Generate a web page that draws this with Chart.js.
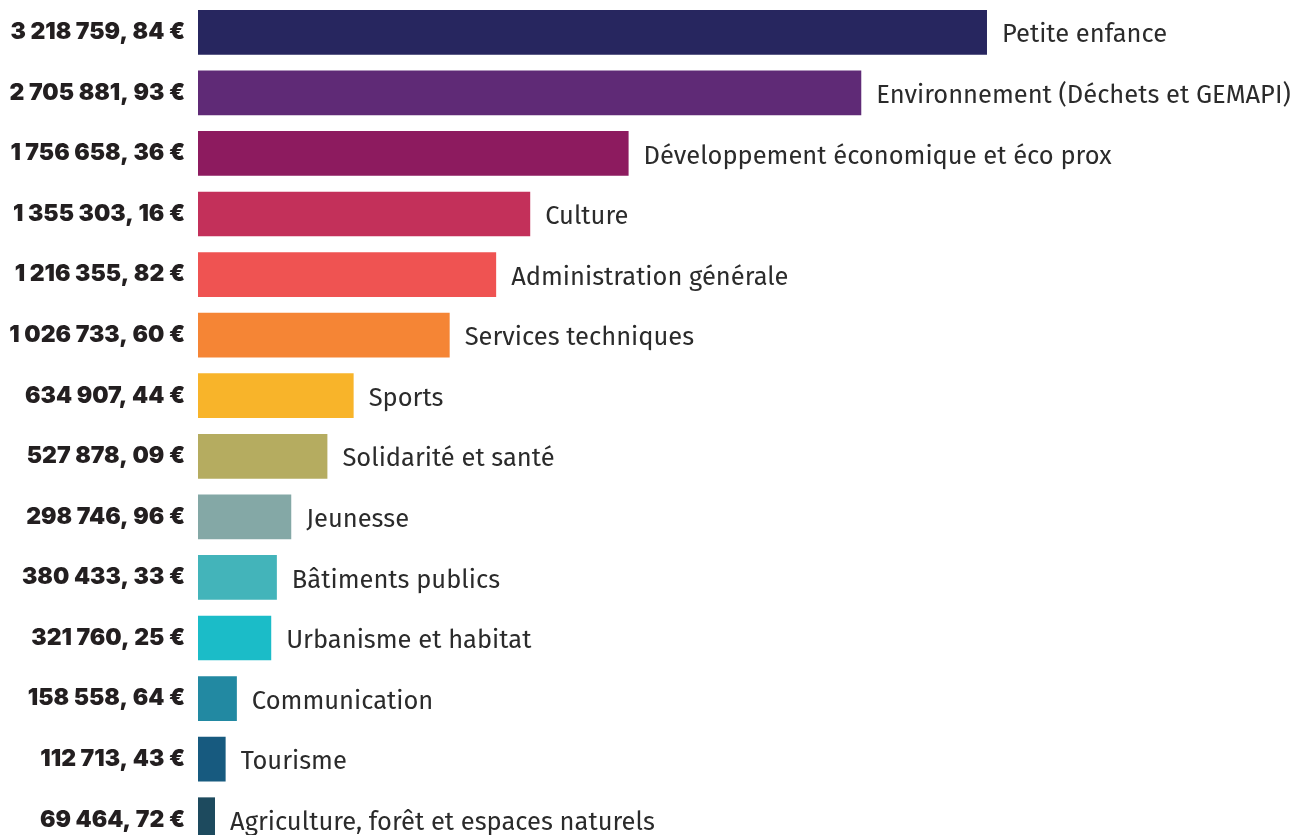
<!DOCTYPE html>
<html>
<head>
<meta charset="utf-8">
<script src="https://cdn.jsdelivr.net/npm/chart.js@4"></script>
<style>
  html, body { margin: 0; padding: 0; background: #fff; overflow: hidden; }
  #wrap { width: 1291px; height: 850px; }
</style>
</head>
<body>
<div id="wrap"><canvas id="budgetChart" width="1291" height="850"></canvas></div>
<script>
// categories (right-hand labels)
var categories = [
  "Petite enfance",
  "Environnement (Déchets et GEMAPI)",
  "Développement économique et éco prox",
  "Culture",
  "Administration générale",
  "Services techniques",
  "Sports",
  "Solidarité et santé",
  "Jeunesse",
  "Bâtiments publics",
  "Urbanisme et habitat",
  "Communication",
  "Tourisme",
  "Agriculture, forêt et espaces naturels"
];

// amounts printed on the left
var valueLabels = [
  "3 218 759, 84 €",
  "2 705 881, 93 €",
  "1 756 658, 36 €",
  "1 355 303, 16 €",
  "1 216 355, 82 €",
  "1 026 733, 60 €",
  "634 907, 44 €",
  "527 878, 09 €",
  "298 746, 96 €",
  "380 433, 33 €",
  "321 760, 25 €",
  "158 558, 64 €",
  "112 713, 43 €",
  "69 464, 72 €"
];

// bar lengths as drawn in the picture (€)
var amounts = [3218759.84, 2705881.93, 1756658.36, 1355303.16, 1216355.82, 1026733.60,
  634907.44, 527878.09, 380433.33, 321760.25, 298746.96, 158558.64, 112713.43, 69464.72];

var barColors = ["#27265f", "#5f2a76", "#8d1b5f", "#c3305a", "#ef5352", "#f58535", "#f8b42a",
  "#b5ac60", "#84a8a6", "#43b4ba", "#1bbcc8", "#2289a2", "#175a7f", "#1d4a5e"];

// draws category names at the end of each bar
var endLabels = {
  id: 'endLabels',
  afterDatasetsDraw: function (chart) {
    var ctx = chart.ctx;
    var meta = chart.getDatasetMeta(0);
    ctx.save();
    ctx.font = '400 25.5px "Fira Sans", "Noto Sans", sans-serif';
    ctx.fillStyle = '#2b2b2b';
    ctx.textAlign = 'left';
    ctx.textBaseline = 'middle';
    meta.data.forEach(function (bar, i) {
      ctx.fillText(categories[i], bar.x + 15, bar.y + 3);
    });
    ctx.restore();
  }
};

var ctx = document.getElementById('budgetChart').getContext('2d');
var chart = new Chart(ctx, {
  type: 'bar',
  data: {
    labels: valueLabels,
    datasets: [{
      data: amounts,
      backgroundColor: barColors,
      borderWidth: 0,
      barPercentage: 0.738,
      categoryPercentage: 1
    }]
  },
  options: {
    indexAxis: 'y',
    responsive: false,
    animation: false,
    layout: { padding: { top: 2, left: 0, right: 0, bottom: 0 } },
    plugins: {
      legend: { display: false },
      tooltip: { enabled: false }
    },
    scales: {
      x: {
        display: false,
        min: 0,
        max: 4459000
      },
      y: {
        grid: { display: false, drawTicks: false },
        border: { display: false },
        ticks: {
          padding: 13,
          color: '#231f20',
          font: { family: 'Inter', size: 23, weight: '900' }
        },
        afterFit: function (scale) {
          scale.width = 198;
          scale.paddingTop = 0;
          scale.paddingBottom = 0;
        }
      }
    }
  },
  plugins: [endLabels]
});
</script>
</body>
</html>
